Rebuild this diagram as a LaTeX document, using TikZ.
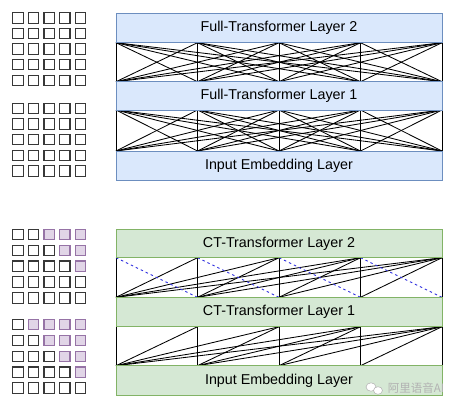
\documentclass[tikz,border=0pt]{standalone}
\usepackage{fontspec}
\setmainfont{Liberation Sans}
\newfontfamily\cjkfont{Noto Sans CJK SC}
\definecolor{bluefill}{HTML}{DAE8FC}
\definecolor{blueline}{HTML}{6C8EBF}
\definecolor{greenfill}{HTML}{D5E8D4}
\definecolor{greenline}{HTML}{82B366}
\definecolor{pinkfill}{HTML}{E1D5E7}
\definecolor{pinkline}{HTML}{9673A6}
\definecolor{sqline}{HTML}{383838}
\definecolor{dashblue}{HTML}{3030E0}
\begin{document}
\begin{tikzpicture}[x=1pt,y=-1pt,
  band/.style={rectangle, minimum width=326pt, inner sep=0pt, line width=0.8pt,
    font=\fontsize{14.3}{16}\selectfont},
  blueband/.style={band, draw=blueline, fill=bluefill},
  greenband/.style={band, draw=greenline, fill=greenfill},
  conn/.style={black, line width=0.85pt},
  look/.style={dashblue, line width=0.9pt, dash pattern=on 2.5pt off 3pt},
  sq/.style={rectangle, minimum size=10.4pt, inner sep=0pt, line width=1.1pt}]
\useasboundingbox[fill=white] (0,0) rectangle (457,410);

% ---- connection end points ----
\foreach \k in {0,...,4}{
  \coordinate (AL-\k) at ({116+81.5*\k},151);
  \coordinate (AU-\k) at ({116+81.5*\k},110);
  \coordinate (BL-\k) at ({116+81.5*\k},81.7);
  \coordinate (BU-\k) at ({116+81.5*\k},42.7);
  \coordinate (CL-\k) at ({116+81.5*\k},365.7);
  \coordinate (CU-\k) at ({116+81.5*\k},326.7);
  \coordinate (DL-\k) at ({116+81.5*\k},297.3);
  \coordinate (DU-\k) at ({116+81.5*\k},257.7);
}

% ---- full transformer connections ----
\foreach \i in {0,...,4}{\foreach \j in {0,...,4}{
  \draw[conn] (AL-\i) -- (AU-\j);
  \draw[conn] (BL-\i) -- (BU-\j);
}}

% ---- CT transformer connections (causal) ----
\foreach \i in {0,...,4}{\foreach \j in {\i,...,4}{
  \draw[conn] (CL-\i) -- (CU-\j);
  \draw[conn] (DL-\i) -- (DU-\j);
}}
\foreach \i/\n in {0/1,1/2,2/3,3/4}{
  \draw[look] (DU-\i) -- (DL-\n);
}

% ---- layer bands ----
\node[blueband, minimum height=29.4pt] (fl2) at (279,28) {Full-Transformer Layer 2};
\node[blueband, minimum height=28.3pt] (fl1) at (279,95.85) {Full-Transformer Layer 1};
\node[blueband, minimum height=29pt] (fin) at (279,165.5) {Input Embedding Layer};
\node[greenband, minimum height=28.7pt] (ct2) at (279,243.35) {CT-Transformer Layer 2};
\node[greenband, minimum height=29.4pt] (ct1) at (279,312) {CT-Transformer Layer 1};
\node[greenband, minimum height=29.3pt] (cin) at (279,380.35) {Input Embedding Layer};

% ---- mask grids ----
\foreach \r in {0,...,4}{\foreach \c in {0,...,4}{
  \node[sq, draw=sqline, fill=white] (ga-\r-\c) at ({18+15.6*\c},{17.9+15.6*\r}) {};
  \node[sq, draw=sqline, fill=white] (gb-\r-\c) at ({18+15.6*\c},{108.5+15.6*\r}) {};
  \ifnum\c>\numexpr\r+1\relax
    \def\lc{pinkline}\def\fc{pinkfill}
  \else
    \def\lc{sqline}\def\fc{white}
  \fi
  \node[sq, draw=\lc, fill=\fc] (gc-\r-\c) at ({18+15.6*\c},{234.5+15.85*\r}) {};
  \ifnum\c>\r
    \def\lc{pinkline}\def\fc{pinkfill}
  \else
    \def\lc{sqline}\def\fc{white}
  \fi
  \node[sq, draw=\lc, fill=\fc] (gd-\r-\c) at ({18+15.6*\c},{324.5+15.9*\r}) {};
}}

% ---- watermark ----
\fill[white, draw=black!30, line width=0.5pt] (371,387) ellipse (5pt and 4.2pt);
\fill[white, draw=black!30, line width=0.5pt] (378,390.5) ellipse (4.5pt and 3.8pt);
\node[text=black!30, inner sep=0pt, font=\cjkfont\fontsize{11.5}{12}\selectfont] (wm) at (416,388.5) {阿里语音AI};
\end{tikzpicture}
\end{document}
